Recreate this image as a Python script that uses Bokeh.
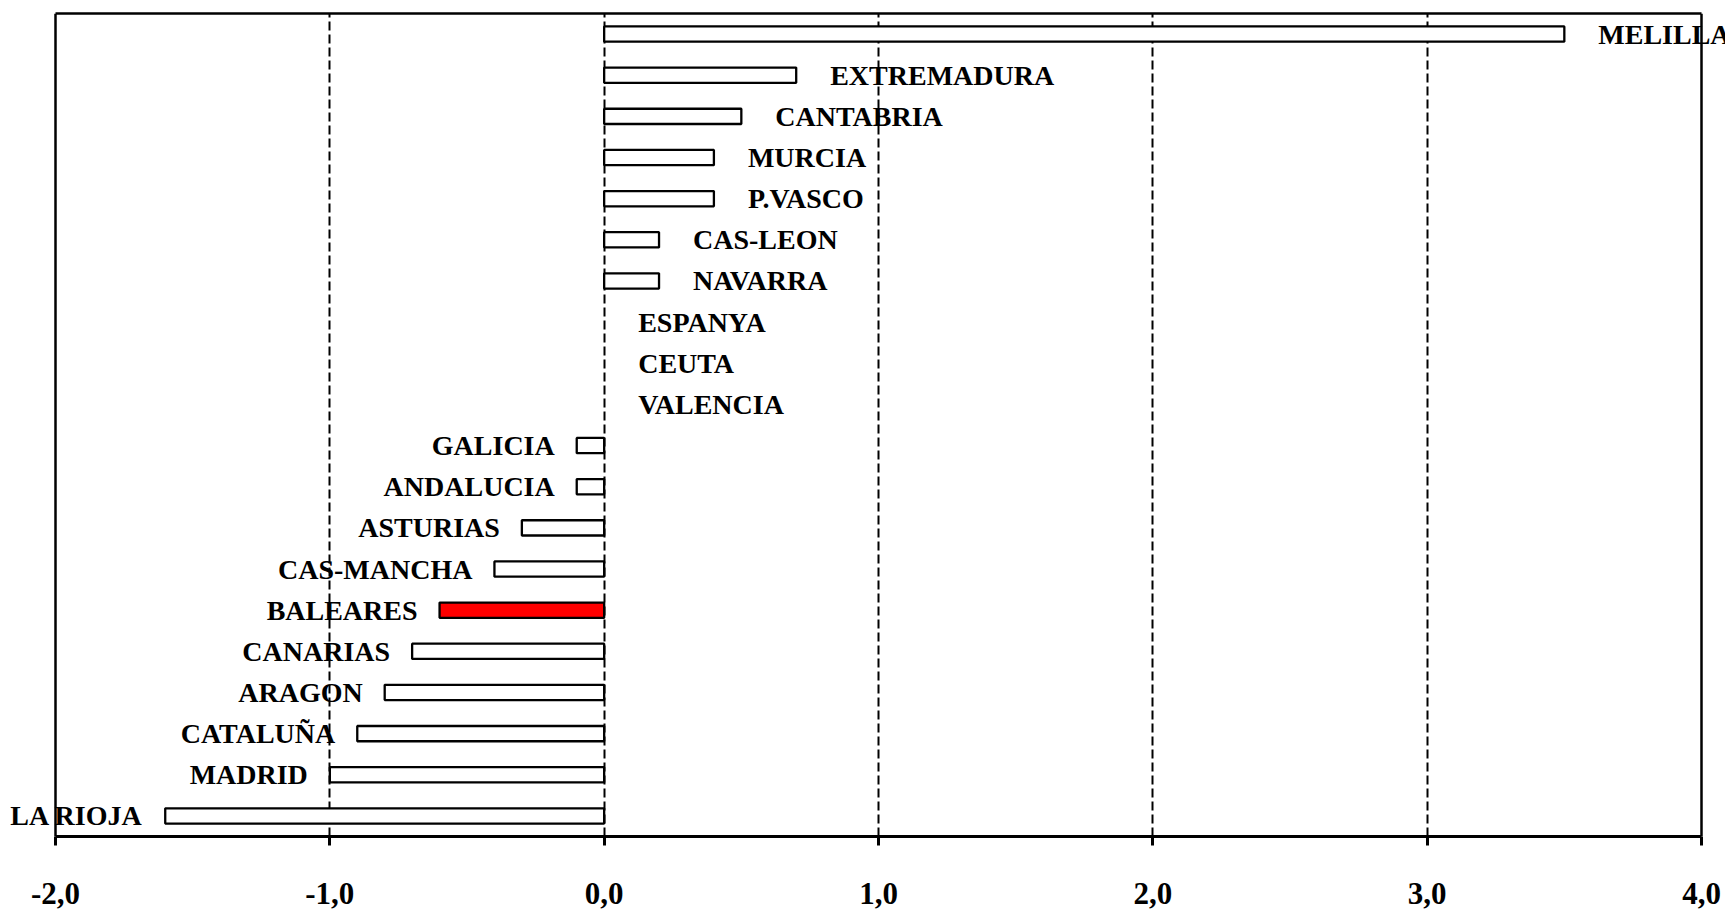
from bokeh.plotting import figure
from bokeh.models import (ColumnDataSource, Range1d, FactorRange, FixedTicker, LabelSet,
                          LinearAxis, Span)
from bokeh.embed import file_html
from bokeh.resources import INLINE

regions = ["MELILLA", "EXTREMADURA", "CANTABRIA", "MURCIA", "P.VASCO", "CAS-LEON",
           "NAVARRA", "ESPANYA", "CEUTA", "VALENCIA", "GALICIA", "ANDALUCIA",
           "ASTURIAS", "CAS-MANCHA", "BALEARES", "CANARIAS", "ARAGON", "CATALUÑA",
           "MADRID", "LA RIOJA"]
values = [3.5, 0.7, 0.5, 0.4, 0.4, 0.2, 0.2, 0.0, 0.0, 0.0, -0.1, -0.1,
          -0.3, -0.4, -0.6, -0.7, -0.8, -0.9, -1.0, -1.6]
highlight = "BALEARES"
tick_values = [-2, -1, 0, 1, 2, 3, 4]
tick_labels = ["-2,0", "-1,0", "0,0", "1,0", "2,0", "3,0", "4,0"]

FONT = "Liberation Serif"
W, H = 1725, 910
AX_LEFT_PX, AX_RIGHT_PX = 55, 1701          # pixel positions of -2 and 4
lo, hi = tick_values[0], tick_values[-1]
scale = (AX_RIGHT_PX - AX_LEFT_PX) / (hi - lo)
x_start = lo - AX_LEFT_PX / scale
x_end = hi + (W - AX_RIGHT_PX) / scale

fills = ["#FF0000" if r == highlight else "white" for r in regions]
line_alphas = [0.0 if v == 0 else 1.0 for v in values]
bar_src = ColumnDataSource(dict(region=regions, value=values, fill=fills, la=line_alphas))

pos_src = ColumnDataSource(dict(region=[r for r, v in zip(regions, values) if v >= 0],
                                value=[v for v in values if v >= 0]))
neg_src = ColumnDataSource(dict(region=[r for r, v in zip(regions, values) if v < 0],
                                value=[v for v in values if v < 0]))

p = figure(width=W, height=H, output_backend="svg", toolbar_location=None,
           x_range=Range1d(x_start, x_end), y_range=FactorRange(*reversed(regions)),
           min_border_left=0, min_border_right=0, min_border_top=13, min_border_bottom=74)
p.y_range.range_padding = 0

# gridlines (dashed)
p.xgrid.ticker = FixedTicker(ticks=tick_values[1:-1])
p.xgrid.grid_line_color = "black"
p.xgrid.grid_line_width = 2
p.xgrid.grid_line_dash = "9 4"
p.xgrid.grid_line_alpha = 1.0
p.ygrid.visible = False
p.yaxis.visible = False

p.hbar(y="region", left=0, right="value", height=0.37, source=bar_src,
       fill_color="fill", line_color="black", line_width=2.3, line_alpha="la")

# frame: left / right borders at axis limits, top via an axis above
p.add_layout(Span(location=lo, dimension="height", line_color="black", line_width=2.5))
p.add_layout(Span(location=hi, dimension="height", line_color="black", line_width=2.5))

xa = p.below[0]
xa.bounds = (lo, hi)
xa.ticker = FixedTicker(ticks=tick_values)
xa.major_label_overrides = dict(zip(tick_values, tick_labels))
xa.major_label_text_font = FONT
xa.major_label_text_font_style = "bold"
xa.major_label_text_font_size = "31px"
xa.major_label_text_color = "black"
xa.major_label_standoff = 37
xa.axis_line_color = "black"
xa.axis_line_width = 3
xa.major_tick_line_color = "black"
xa.major_tick_line_width = 3
xa.major_tick_in = 0
xa.major_tick_out = 9
xa.minor_tick_line_color = None

top_axis = LinearAxis(bounds=(lo, hi), ticker=FixedTicker(ticks=[]),
                      major_label_text_font_size="0px", major_tick_out=0, major_tick_in=0,
                      minor_tick_out=0, minor_tick_line_color=None,
                      axis_line_width=2.5, axis_line_color="black",
                      major_label_standoff=0)
p.add_layout(top_axis, "above")

lab_pos = LabelSet(x="value", y="region", text="region", source=pos_src,
                   x_offset=34, y_offset=0, text_align="left", text_baseline="middle",
                   text_font=FONT, text_font_style="bold", text_font_size="28px",
                   text_color="black")
lab_neg = LabelSet(x="value", y="region", text="region", source=neg_src,
                   x_offset=-22, y_offset=0, text_align="right", text_baseline="middle",
                   text_font=FONT, text_font_style="bold", text_font_size="28px",
                   text_color="black")
p.add_layout(lab_pos)
p.add_layout(lab_neg)

p.outline_line_color = None
p.background_fill_color = "white"
p.border_fill_color = "white"

open("out.html", "w").write(file_html(p, INLINE))
